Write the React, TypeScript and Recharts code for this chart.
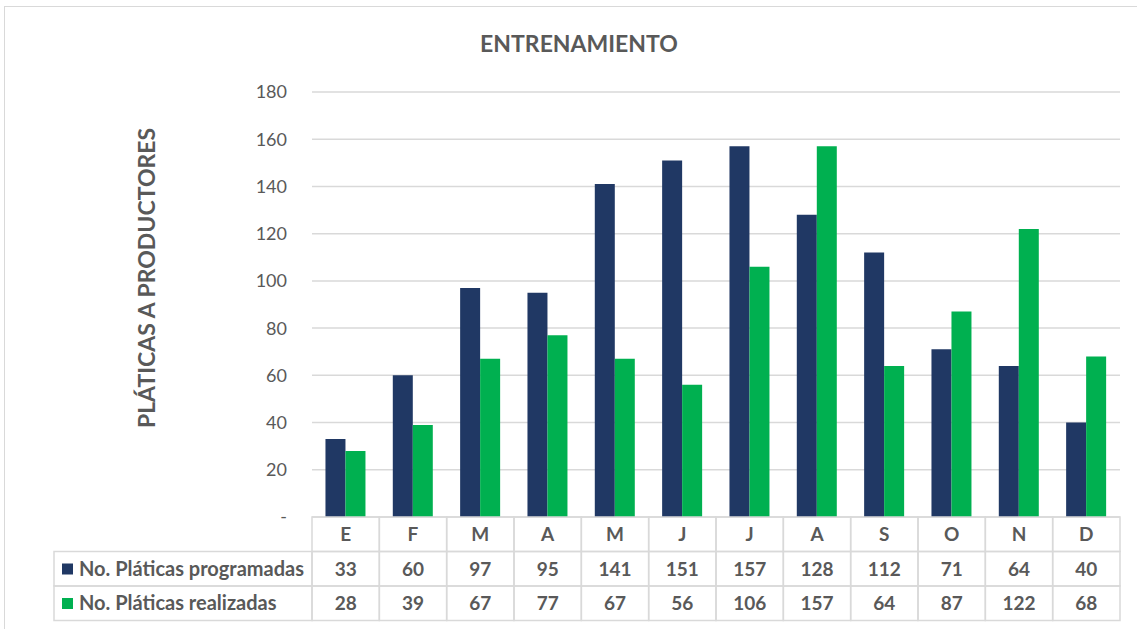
import { Bar, BarChart, CartesianGrid, XAxis, YAxis } from "recharts";

const months = ["E", "F", "M", "A", "M", "J", "J", "A", "S", "O", "N", "D"];
const programadas = [33, 60, 97, 95, 141, 151, 157, 128, 112, 71, 64, 40];
const realizadas = [28, 39, 67, 77, 67, 56, 106, 157, 64, 87, 122, 68];
const yTicks = [0, 20, 40, 60, 80, 100, 120, 140, 160, 180];
const seriesNames = ["No. Pláticas programadas", "No. Pláticas realizadas"];

const DARK = "#203864";
const GREEN = "#00B050";
const TEXT = "#595959";
const LINE = "#d9d9d9";
const FONT = "Lato, 'Liberation Sans', sans-serif";

const data = months.map((m, i) => ({
  mes: m,
  programadas: programadas[i],
  realizadas: realizadas[i],
}));

const ROW = 34.5;

function TableTick(props: any) {
  const { x, y, payload } = props;
  const i = payload.index;
  const w = payload.offset ? payload.offset * 2 : 67.3;
  const left = x - w / 2;
  const cells = [months[i], programadas[i], realizadas[i]];
  const legendW = 258;
  return (
    <g>
      {cells.map((v, r) => (
        <g key={r}>
          <rect x={left} y={y + r * ROW} width={w} height={ROW} fill="none" stroke={LINE} strokeWidth={1.5} />
          <text x={x} y={y + r * ROW + ROW / 2 + 7} textAnchor="middle" fill={TEXT} fontSize={19} fontWeight={700} fontFamily={FONT}>
            {v}
          </text>
        </g>
      ))}
      {i === 0 &&
        seriesNames.map((name, r) => (
          <g key={name}>
            <rect x={left - legendW} y={y + (r + 1) * ROW} width={legendW} height={ROW} fill="none" stroke={LINE} strokeWidth={1.5} />
            <rect x={left - legendW + 8} y={y + (r + 1) * ROW + 12} width={11} height={11} fill={r === 0 ? DARK : GREEN} />
            <text x={left - legendW + 25} y={y + (r + 1) * ROW + ROW / 2 + 7} fill={TEXT} fontSize={20} fontWeight={700} fontFamily={FONT}>
              {name}
            </text>
          </g>
        ))}
    </g>
  );
}

export default function App() {
  return (
    <div style={{ position: "absolute", left: 0, top: 0, width: 1137, height: 629, overflow: "hidden", background: "#fff" }}>
      <div style={{ position: "absolute", left: 4, top: 6, width: 1140, height: 640, border: `1px solid ${LINE}` }} />
      <div style={{ position: "absolute", left: 0, top: 29, width: 1158, textAlign: "center", fontFamily: FONT, fontWeight: 700, fontSize: 23, color: TEXT }}>
        ENTRENAMIENTO
      </div>
      <div
        style={{
          position: "absolute",
          left: 146,
          top: 278,
          transform: "translate(-50%, -50%) rotate(-90deg)",
          whiteSpace: "nowrap",
          fontFamily: FONT,
          fontWeight: 700,
          fontSize: 23,
          color: TEXT,
        }}
      >
        PLÁTICAS A PRODUCTORES
      </div>
      <div style={{ position: "absolute", left: 0, top: 0 }}>
        <BarChart
          width={1137}
          height={629}
          data={data}
          margin={{ top: 92, right: 17, left: 0, bottom: 8 }}
          barCategoryGap="20%"
          barGap={0}
        >
          <CartesianGrid vertical={false} stroke={LINE} strokeWidth={1.5} />
          <XAxis
            dataKey="mes"
            axisLine={false}
            tickLine={false}
            tickSize={0}
            tickMargin={0}
            height={104}
            interval={0}
            tick={<TableTick />}
          />
          <YAxis
            width={312}
            domain={[0, 180]}
            ticks={yTicks}
            axisLine={false}
            tickLine={false}
            tickSize={0}
            tickMargin={25}
            tickFormatter={(v: number) => (v === 0 ? "-" : String(v))}
            tick={{ fill: TEXT, fontSize: 18, fontFamily: FONT }}
          />
          <Bar dataKey="programadas" fill={DARK} isAnimationActive={false} />
          <Bar dataKey="realizadas" fill={GREEN} isAnimationActive={false} />
        </BarChart>
      </div>
    </div>
  );
}
